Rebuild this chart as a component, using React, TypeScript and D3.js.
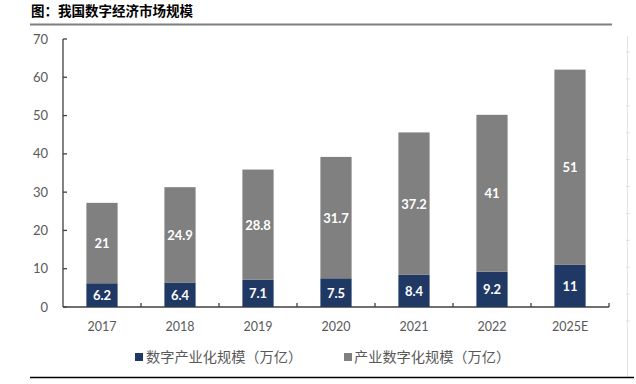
import React from "react";
import * as d3 from "d3";

const categories = ["2017", "2018", "2019", "2020", "2021", "2022", "2025E"];
const digitalIndustry = [6.2, 6.4, 7.1, 7.5, 8.4, 9.2, 11];
const industryDigital = [21, 24.9, 28.8, 31.7, 37.2, 41, 51];
const yTicks = [0, 10, 20, 30, 40, 50, 60, 70];
const seriesNames = ["数字产业化规模（万亿）", "产业数字化规模（万亿）"];
const title = "图：我国数字经济市场规模";

const W = 636;
const H = 384;
const NAVY = "#1f3864";
const GRAY = "#808080";
const FONT = "Lato, 'Open Sans', 'Noto Sans', sans-serif";
const CJK = "'Noto Sans CJK SC', sans-serif";

export default function App() {
  const x = d3.scaleBand<string>().domain(categories).range([63, 609]).paddingInner(0.6).paddingOuter(0.3);
  const y = d3.scaleLinear().domain([0, 70]).range([307, 39]);
  const step = x.step();
  const rightTicks = d3.range(11).map((i) => 52 + i * 26.9);

  return (
    <div style={{ position: "absolute", left: 0, top: 0, width: W, height: H }}>
      <svg width={W} height={H} style={{ display: "block" }}>
        <rect width={W} height={H} fill="#fff" />
        <text x={31} y={16} fontFamily={CJK} fontWeight={700} fontSize={13.5} fill="#000">
          {title}
        </text>
        <line x1={30} x2={612} y1={24.5} y2={24.5} stroke="#7f7f7f" strokeWidth={1.8} />

        {/* faint right-side page artifact */}
        <line x1={627.5} x2={627.5} y1={36} y2={378} stroke="#e4e4e4" strokeWidth={1} />
        {rightTicks.map((t, i) => (
          <line key={i} x1={626} x2={630} y1={t} y2={t} stroke="#e0e0e0" strokeWidth={1} />
        ))}

        {/* y axis */}
        <line x1={63} x2={63} y1={y(70)} y2={y(0)} stroke="#404040" strokeWidth={1.3} />
        {yTicks.map((t) => (
          <g key={t}>
            <line x1={63} x2={67} y1={y(t)} y2={y(t)} stroke="#404040" strokeWidth={1.3} />
            <text
              x={48}
              y={y(t)}
              dy="0.35em"
              textAnchor="end"
              fontFamily={FONT}
              fontSize={13}
              fill="#595959"
            >
              {t}
            </text>
          </g>
        ))}

        {/* x axis */}
        <line x1={63} x2={609} y1={y(0)} y2={y(0)} stroke="#404040" strokeWidth={1.3} />
        {categories.map((c, i) => (
          <line
            key={"t" + c}
            x1={63 + step * (i + 1)}
            x2={63 + step * (i + 1)}
            y1={y(0)}
            y2={y(0) - 4}
            stroke="#404040"
            strokeWidth={1.3}
          />
        ))}
        {categories.map((c) => (
          <text
            key={"l" + c}
            x={(x(c) as number) + x.bandwidth() / 2}
            y={331}
            textAnchor="middle"
            fontFamily={FONT}
            fontSize={12.5}
            fill="#595959"
          >
            {c}
          </text>
        ))}

        {/* bars */}
        {categories.map((c, i) => {
          const bx = x(c) as number;
          const bw = x.bandwidth();
          const a = digitalIndustry[i];
          const b = industryDigital[i];
          const cx = bx + bw / 2;
          return (
            <g key={"b" + c}>
              <rect x={bx} y={y(a)} width={bw} height={y(0) - y(a)} fill={NAVY} />
              <rect x={bx} y={y(a + b)} width={bw} height={y(a) - y(a + b)} fill={GRAY} />
              <text
                x={cx}
                y={(y(0) + y(a)) / 2}
                dy="0.38em"
                textAnchor="middle"
                fontFamily={FONT}
                fontWeight={700}
                fontSize={13}
                fill="#fff"
              >
                {a}
              </text>
              <text
                x={cx}
                y={(y(a) + y(a + b)) / 2}
                dy="0.38em"
                textAnchor="middle"
                fontFamily={FONT}
                fontWeight={700}
                fontSize={13}
                fill="#fff"
              >
                {b}
              </text>
            </g>
          );
        })}

        {/* legend */}
        <rect x={135} y={353} width={8} height={8} fill={NAVY} />
        <text x={146} y={362} fontFamily={CJK} fontSize={14.2} fill="#595959">
          {seriesNames[0]}
        </text>
        <rect x={344} y={353} width={8} height={8} fill={GRAY} />
        <text x={354} y={362} fontFamily={CJK} fontSize={14.2} fill="#595959">
          {seriesNames[1]}
        </text>

        <line x1={30} x2={634} y1={377.5} y2={377.5} stroke="#000" strokeWidth={1.3} />
      </svg>
    </div>
  );
}
